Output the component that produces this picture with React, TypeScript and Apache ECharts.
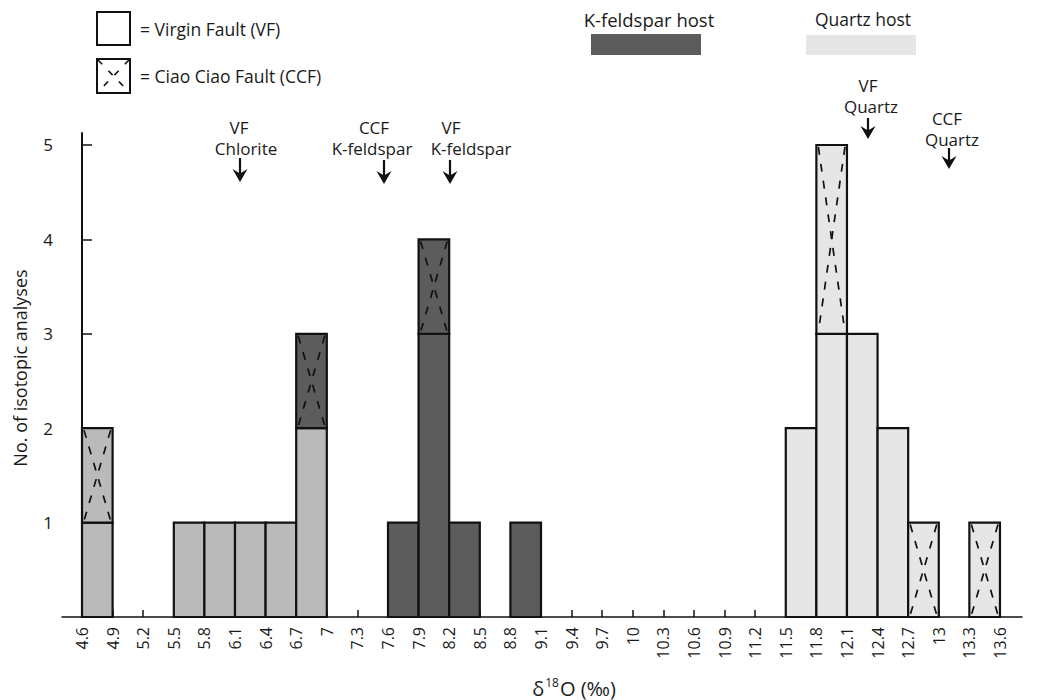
import React, { useEffect, useRef } from "react";
import * as echarts from "echarts";

const binEdges = ["4.6","4.9","5.2","5.5","5.8","6.1","6.4","6.7","7","7.3","7.6","7.9","8.2","8.5","8.8","9.1","9.4","9.7","10","10.3","10.6","10.9","11.2","11.5","11.8","12.1","12.4","12.7","13","13.3","13.6"];
// counts per 0.3 bin (bin i spans binEdges[i]..binEdges[i+1])
const vfCounts = [1,0,0,1,1,1,1,2,0,0,1,3,1,0,1,0,0,0,0,0,0,0,0,2,3,3,2,0,0,0];
const ccfCounts = [1,0,0,0,0,0,0,1,0,0,0,1,0,0,0,0,0,0,0,0,0,0,0,0,2,0,0,1,0,1];
// host: 0 = other (chlorite), 1 = K-feldspar, 2 = quartz
const vfHost = [0,0,0,0,0,0,0,0,0,0,1,1,1,1,1,0,0,0,0,0,0,0,0,2,2,2,2,2,2,2];
const ccfHost = [0,0,0,0,0,0,0,1,0,0,1,1,1,0,0,0,0,0,0,0,0,0,0,2,2,2,2,2,2,2];
const yTicks = [1,2,3,4,5];
const annotations = [
  { lines: ["VF", "Chlorite"], tx: [239, 246], textY: 127, arrowX: 240, arrowTop: 158, arrowTip: 182 },
  { lines: ["CCF", "K-feldspar"], tx: [374, 372], textY: 127, arrowX: 384, arrowTop: 160, arrowTip: 184 },
  { lines: ["VF", "K-feldspar"], tx: [451, 471], textY: 127, arrowX: 450, arrowTop: 160, arrowTip: 184 },
  { lines: ["VF", "Quartz"], tx: [868, 871], textY: 85, arrowX: 868, arrowTop: 118, arrowTip: 139 },
  { lines: ["CCF", "Quartz"], tx: [947, 952], textY: 118, arrowX: 949, arrowTop: 148, arrowTip: 169 },
];

const hostColors = ["#bababa", "#5c5c5c", "#e6e6e6"];
const FONT = "Open Sans";
const INK = "#1a1a1a";

type Item = { x0: number; x1: number; y0: number; y1: number; host: number; ccf: boolean };

export default function App() {
  const ref = useRef<HTMLDivElement>(null);
  useEffect(() => {
    if (!ref.current) return;
    const chart = echarts.init(ref.current, null, { renderer: "svg" });

    const items: Item[] = [];
    for (let i = 0; i < vfCounts.length; i++) {
      if (vfCounts[i] > 0) items.push({ x0: i, x1: i + 1, y0: 0, y1: vfCounts[i], host: vfHost[i], ccf: false });
      if (ccfCounts[i] > 0)
        items.push({ x0: i, x1: i + 1, y0: vfCounts[i], y1: vfCounts[i] + ccfCounts[i], host: ccfHost[i], ccf: true });
    }

    const idx = binEdges.map((_, i) => i);

    const arrow = (x: number, top: number, tip: number) => ({
      type: "group",
      children: [
        { type: "line", shape: { x1: x, y1: top, x2: x, y2: tip - 6 }, style: { stroke: "#111", lineWidth: 2.2 } },
        {
          type: "polygon",
          shape: { points: [[x - 7.5, tip - 13], [x, tip - 8.5], [x + 7.5, tip - 13], [x, tip]] },
          style: { fill: "#111" },
        },
      ],
    });

    const graphic: any[] = [];
    annotations.forEach((a) => {
      a.lines.forEach((t, k) => {
        graphic.push({
          type: "text",
          x: a.tx[k],
          y: a.textY + k * 21,
          style: { text: t, fill: INK, font: `17px "${FONT}"`, align: "center", verticalAlign: "middle" },
        });
      });
      graphic.push(arrow(a.arrowX, a.arrowTop, a.arrowTip));
    });

    // legend boxes
    graphic.push({ type: "rect", shape: { x: 97, y: 12, width: 33, height: 33 }, style: { fill: "#fff", stroke: "#111", lineWidth: 2 } });
    graphic.push({ type: "text", x: 140, y: 29, style: { text: "= Virgin Fault (VF)", fill: INK, font: `17.5px "${FONT}"`, verticalAlign: "middle" } });
    graphic.push({ type: "rect", shape: { x: 97, y: 59, width: 33, height: 34 }, style: { fill: "#fff", stroke: "#111", lineWidth: 2 } });
    graphic.push({ type: "line", shape: { x1: 98, y1: 60, x2: 129, y2: 92 }, style: { stroke: "#111", lineWidth: 1.6, lineDash: [6, 9] } });
    graphic.push({ type: "line", shape: { x1: 129, y1: 60, x2: 98, y2: 92 }, style: { stroke: "#111", lineWidth: 1.6, lineDash: [6, 9] } });
    graphic.push({ type: "text", x: 140, y: 76, style: { text: "= Ciao Ciao Fault (CCF)", fill: INK, font: `17.5px "${FONT}"`, verticalAlign: "middle" } });

    // host legend
    graphic.push({ type: "text", x: 649, y: 19, style: { text: "K-feldspar host", fill: INK, font: `18.5px "${FONT}"`, align: "center", verticalAlign: "middle" } });
    graphic.push({ type: "rect", shape: { x: 591, y: 34, width: 110, height: 21 }, style: { fill: hostColors[1] } });
    graphic.push({ type: "text", x: 863, y: 19, style: { text: "Quartz host", fill: INK, font: `17.5px "${FONT}"`, align: "center", verticalAlign: "middle" } });
    graphic.push({ type: "rect", shape: { x: 806, y: 35, width: 110, height: 20 }, style: { fill: hostColors[2] } });

    // axis names
    graphic.push({
      type: "text",
      x: 574,
      y: 688,
      style: {
        text: "δ{sup|18}O (‰)",
        fill: INK,
        font: `20px "${FONT}"`,
        align: "center",
        verticalAlign: "middle",
        rich: { sup: { fontSize: 12, verticalAlign: "top", padding: [0, 1, 12, 1], fontFamily: FONT, fill: INK } },
      },
    });
    graphic.push({
      type: "text",
      x: 20,
      y: 368,
      rotation: Math.PI / 2,
      style: { text: "No. of isotopic analyses", fill: INK, font: `18px "${FONT}"`, align: "center", verticalAlign: "middle" },
    });

    chart.setOption({
      animation: false,
      backgroundColor: "#fff",
      grid: { left: 62, top: 133, right: 24, bottom: 83, containLabel: false },
      xAxis: {
        type: "value",
        min: -0.654,
        max: 30.72,
        axisLine: { show: true, lineStyle: { color: "#111", width: 1.5 } },
        axisTick: { show: true, inside: true, length: 7, customValues: idx, lineStyle: { color: "#111", width: 1.5 } },
        axisLabel: {
          customValues: idx,
          rotate: 90,
          margin: 10,
          fontSize: 16,
          fontFamily: FONT,
          color: INK,
          formatter: (v: number) => binEdges[Math.round(v)] ?? "",
        },
        splitLine: { show: false },
      },
      yAxis: {
        type: "value",
        min: 0,
        max: 5.127,
        axisLine: { show: true, lineStyle: { color: "#111", width: 2 } },
        axisTick: { show: true, inside: true, length: 10, customValues: yTicks, lineStyle: { color: "#111", width: 1.5 } },
        axisLabel: { customValues: yTicks, margin: 9, fontSize: 17, fontFamily: FONT, color: INK },
        splitLine: { show: false },
      },
      series: [
        {
          type: "custom",
          data: items.map((it) => [it.x0, it.x1, it.y0, it.y1]),
          encode: { x: [0, 1], y: [2, 3] },
          renderItem: (params: any, api: any) => {
            const it = items[params.dataIndex];
            const p0 = api.coord([it.x0, it.y0]);
            const p1 = api.coord([it.x1, it.y1]);
            const x = p0[0];
            const y = p1[1];
            const w = p1[0] - p0[0];
            const h = p0[1] - p1[1];
            const children: any[] = [
              { type: "rect", shape: { x, y, width: w, height: h }, style: { fill: hostColors[it.host], stroke: "#111", lineWidth: 2.2 } },
            ];
            if (it.ccf) {
              children.push({ type: "line", shape: { x1: x + 2, y1: y + 2, x2: x + w - 2, y2: y + h - 2 }, style: { stroke: "#111", lineWidth: 1.7, lineDash: [8, 9] } });
              children.push({ type: "line", shape: { x1: x + w - 2, y1: y + 2, x2: x + 2, y2: y + h - 2 }, style: { stroke: "#111", lineWidth: 1.7, lineDash: [8, 9] } });
            }
            return { type: "group", children };
          },
        },
      ],
      graphic,
    });
    return () => chart.dispose();
  }, []);
  return <div ref={ref} style={{ position: "fixed", left: 0, top: 0, width: 1046, height: 700 }} />;
}
